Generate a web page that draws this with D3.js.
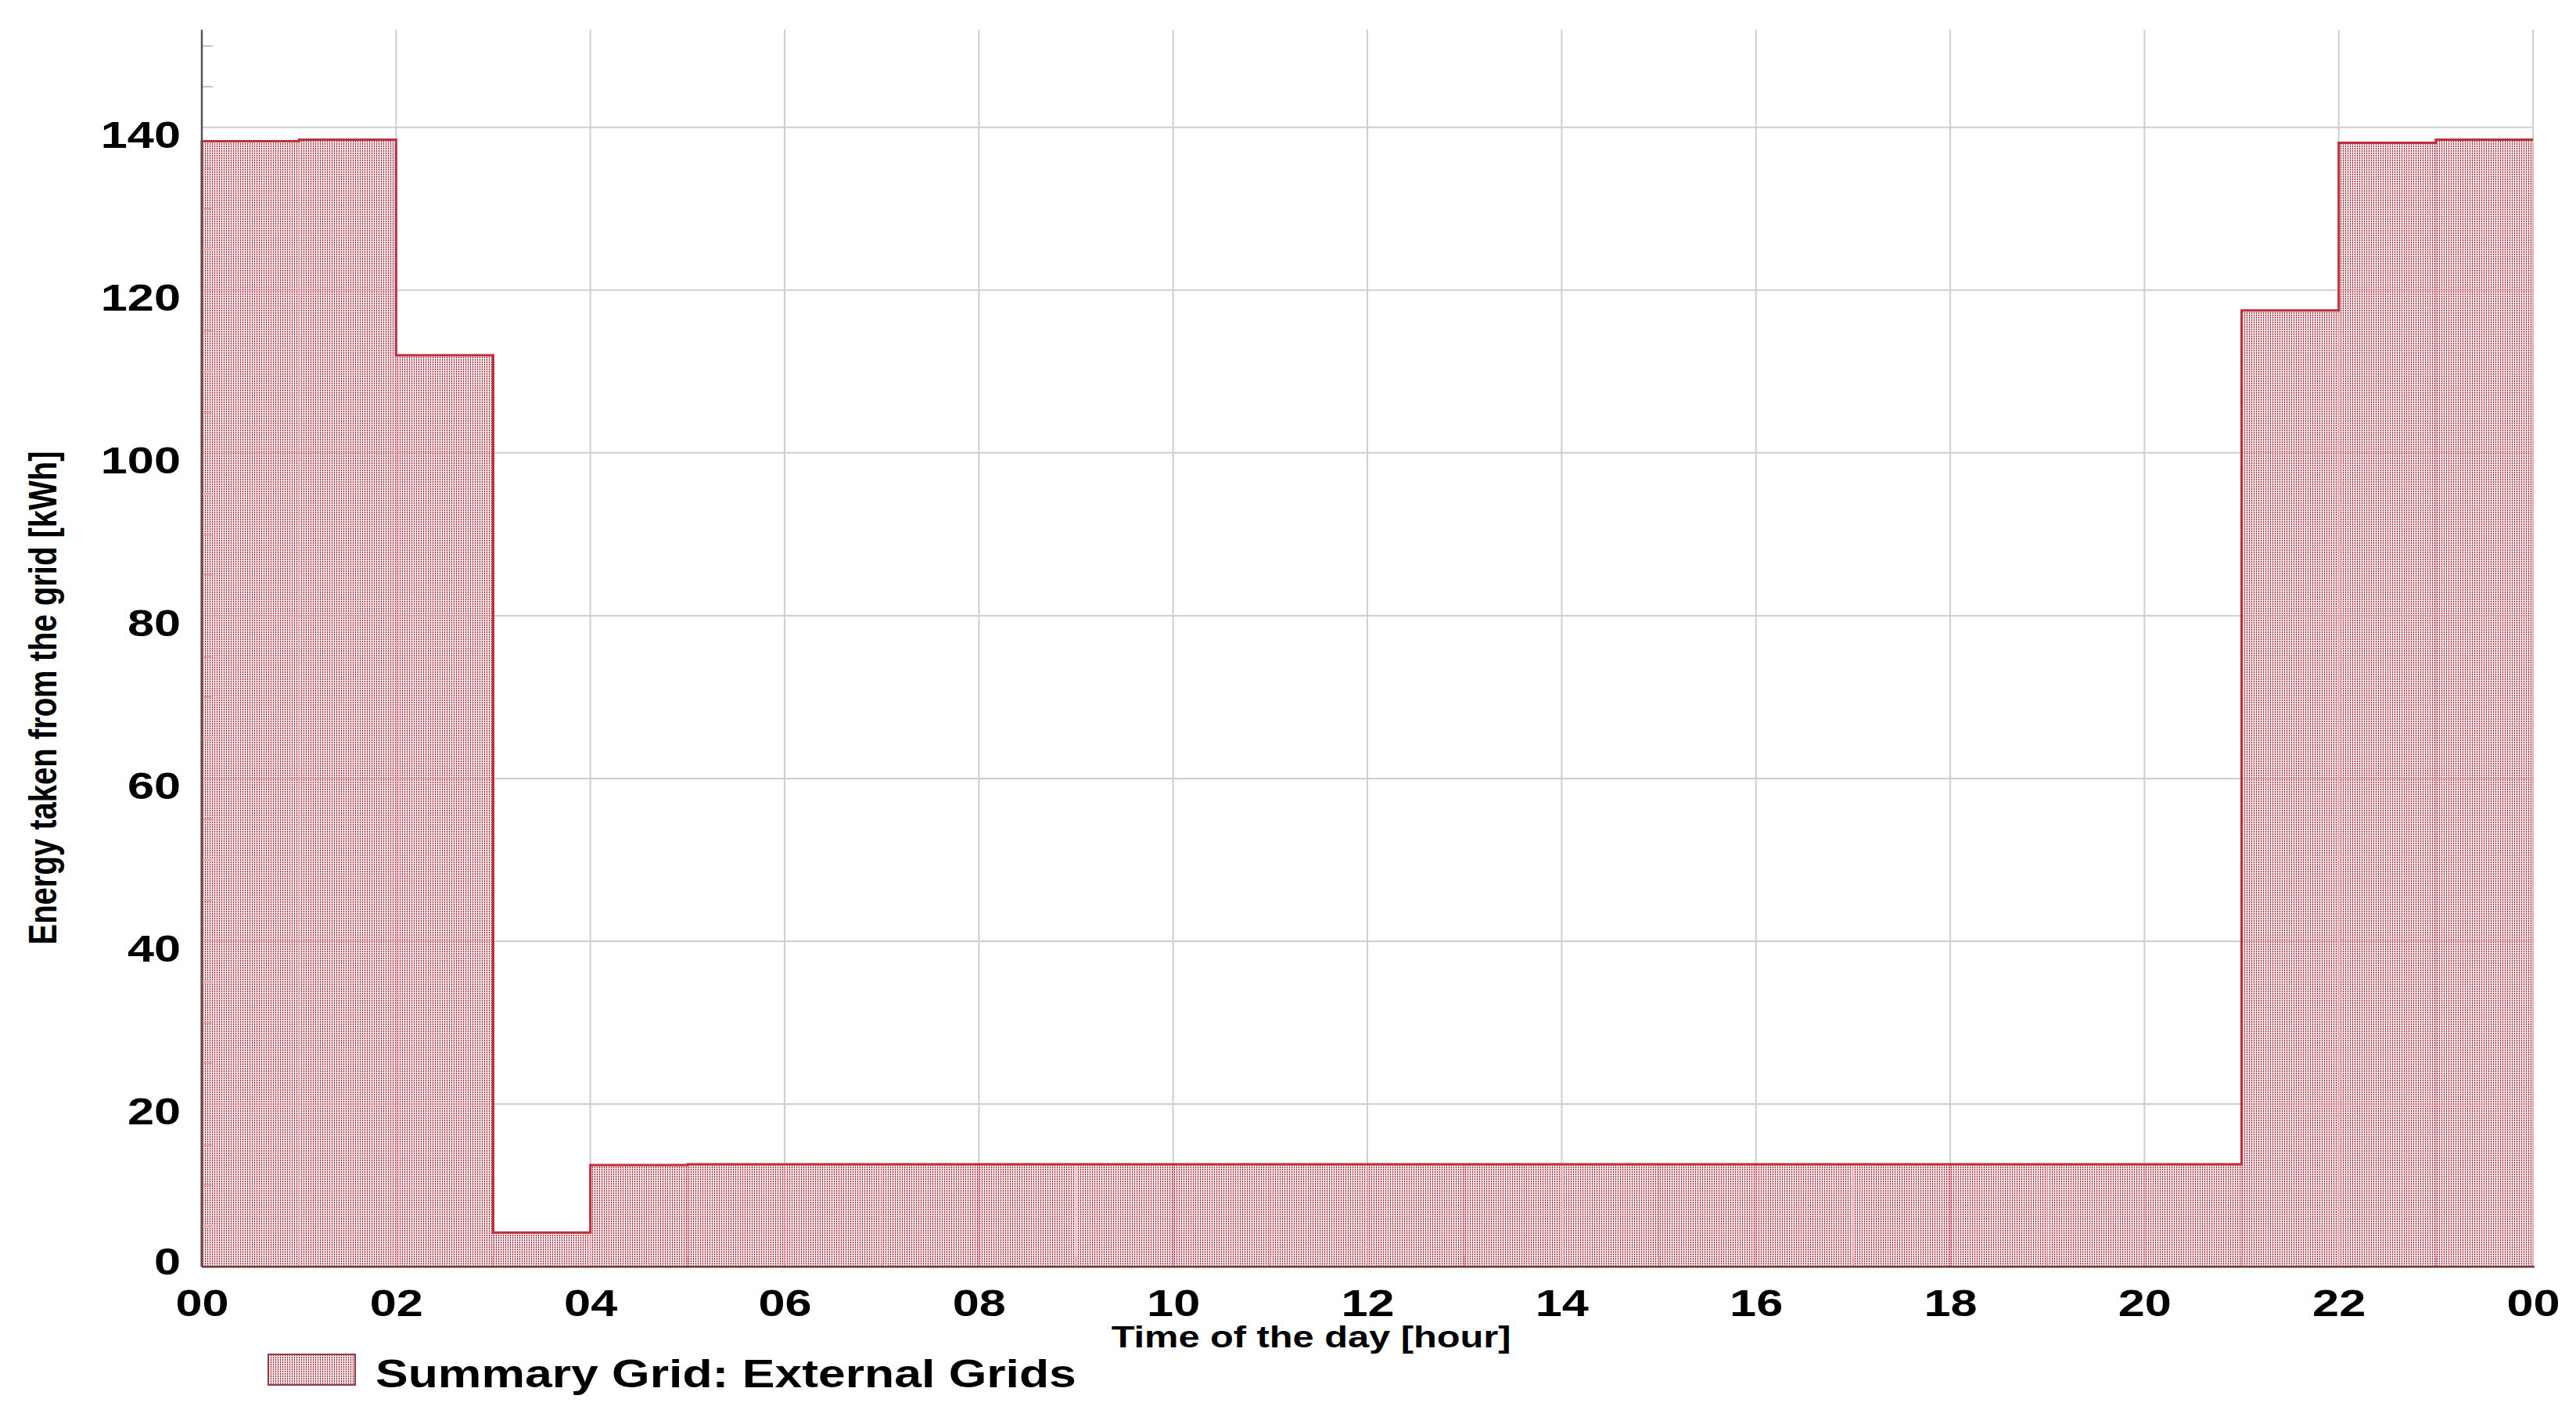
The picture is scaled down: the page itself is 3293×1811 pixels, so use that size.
<!DOCTYPE html>
<html><head><meta charset="utf-8">
<script src="https://cdn.jsdelivr.net/npm/d3@7"></script>
<style>html,body{margin:0;padding:0;background:#fff;} svg{display:block;}</style>
</head><body>
<svg id="chart" width="3293" height="1811"></svg>
<script>
// ---- data ----
const hourStart = [0,1,2,3,4,5,6,7,8,9,10,11,12,13,14,15,16,17,18,19,20,21,22,23];
const energy = [138.3,138.5,112.0,4.2,12.5,12.6,12.6,12.6,12.6,12.6,12.6,12.6,12.6,12.6,12.6,12.6,12.6,12.6,12.6,12.6,12.6,117.5,138.1,138.5];
const xTickHours = [0,2,4,6,8,10,12,14,16,18,20,22,24];
const xTickLabels = ["00","02","04","06","08","10","12","14","16","18","20","22","00"];
const yTickValues = [0,20,40,60,80,100,120,140];
const yMinorTicks = [5,10,15,25,30,35,45,50,55,65,70,75,85,90,95,105,110,115,125,130,135,145,150];
const seriesName = "Summary Grid: External Grids";
const xTitle = "Time of the day [hour]";
const yTitle = "Energy taken from the grid [kWh]";

// ---- layout ----
const plot = {left:258, right:3238, top:38, bottom:1619};
const SX = 1.25; // horizontal stretch of lettering
const FONT = "'Liberation Sans', Arial, sans-serif";
const x = d3.scaleLinear().domain([0,24]).range([plot.left, plot.right]);
const y = d3.scaleLinear().domain([0,152]).range([plot.bottom, plot.top]);

const svg = d3.select("#chart");
const defs = svg.append("defs");
const pat = defs.append("pattern").attr("id","dots").attr("patternUnits","userSpaceOnUse")
  .attr("width",3).attr("height",3);
pat.append("rect").attr("width",3).attr("height",3).attr("fill","#f5dde0");
pat.append("rect").attr("x",1).attr("y",0).attr("width",1).attr("height",2).attr("fill","#8c2a3a");

const bars = hourStart.map((h,i)=>({h, v:energy[i]}));

// clip for grid overlay inside bars
const clip = defs.append("clipPath").attr("id","barclip");
clip.selectAll("rect").data(bars).join("rect")
  .attr("x",d=>x(d.h)).attr("width",d=>x(d.h+1)-x(d.h))
  .attr("y",d=>y(d.v)).attr("height",d=>y(0)-y(d.v));

// ---- grid ----
function drawGrid(g, color, width){
  g.selectAll("line.h").data(yTickValues.filter(v=>v>0)).join("line").attr("class","h")
    .attr("x1",plot.left).attr("x2",plot.right).attr("y1",d=>y(d)).attr("y2",d=>y(d))
    .attr("stroke",color).attr("stroke-width",width);
  g.selectAll("line.v").data(xTickHours.filter(h=>h>0)).join("line").attr("class","v")
    .attr("x1",d=>x(d)).attr("x2",d=>x(d)).attr("y1",plot.top).attr("y2",plot.bottom)
    .attr("stroke",color).attr("stroke-width",width);
}
drawGrid(svg.append("g"), "#cfcfcf", 2);

// ---- bars ----
svg.append("g").selectAll("rect").data(bars).join("rect")
  .attr("x",d=>x(d.h)).attr("width",d=>x(d.h+1)-x(d.h))
  .attr("y",d=>y(d.v)).attr("height",d=>y(0)-y(d.v))
  .attr("fill","url(#dots)").attr("stroke","#eba3a9").attr("stroke-width",1);

// grid showing through fill
drawGrid(svg.append("g").attr("clip-path","url(#barclip)").attr("opacity",0.5), "#ec8a93", 2);

// outline
const outlinePts = [[0,0]].concat(bars.map(d=>[d.h,d.v])).concat([[24, energy[energy.length-1]]]);
svg.append("path").datum(outlinePts)
  .attr("d", d3.line().x(d=>x(d[0])).y(d=>y(d[1])).curve(d3.curveStepAfter))
  .attr("fill","none").attr("stroke","#bd2f3b").attr("stroke-width",3);

// minor ticks
svg.append("g").selectAll("line").data(yMinorTicks).join("line")
  .attr("x1",plot.left).attr("x2",plot.left+14).attr("y1",d=>y(d)).attr("y2",d=>y(d))
  .attr("stroke",d=>d<=138?"#e59aa1":"#c4c4c4").attr("stroke-width",2);
svg.append("g").selectAll("line").data(hourStart.filter(h=>h%2===1)).join("line")
  .attr("x1",d=>x(d)).attr("x2",d=>x(d)).attr("y1",plot.bottom).attr("y2",plot.bottom-13)
  .attr("stroke","#e59aa1").attr("stroke-width",2);

// axis lines
svg.append("line").attr("x1",plot.left).attr("x2",plot.left).attr("y1",plot.top).attr("y2",plot.bottom)
  .attr("stroke","#555").attr("stroke-width",2.5);
svg.append("line").attr("x1",plot.left).attr("x2",plot.right+2).attr("y1",plot.bottom).attr("y2",plot.bottom)
  .attr("stroke","#6b3a3f").attr("stroke-width",2.5);

// ---- axes (labels) ----
const gY = svg.append("g").attr("transform",`translate(${plot.left},0)`)
  .call(d3.axisLeft(y).tickValues(yTickValues).tickSize(0).tickFormat(d3.format("d")));
gY.attr("font-family",FONT).attr("font-size",49);
gY.select(".domain").remove();
gY.selectAll(".tick text").attr("x",0).attr("dy",null)
  .attr("transform",d=>`translate(-27,${d===0?9:25.5}) scale(${SX},1)`)
  .attr("font-weight","bold").attr("fill","#000").attr("text-anchor","end");

const gX = svg.append("g").attr("transform",`translate(0,${plot.bottom})`)
  .call(d3.axisBottom(x).tickValues(xTickHours).tickSize(0).tickFormat((d,i)=>xTickLabels[i]));
gX.attr("font-family",FONT).attr("font-size",49);
gX.select(".domain").remove();
gX.selectAll(".tick text").attr("y",0).attr("dy",null)
  .attr("transform",`translate(0,63) scale(${SX},1)`)
  .attr("font-weight","bold").attr("fill","#000").attr("text-anchor","middle");

// titles
svg.append("text").attr("transform",`translate(1676,1722) scale(${SX},1)`)
  .attr("text-anchor","middle").attr("font-family",FONT).attr("font-size",39).attr("font-weight","bold")
  .attr("fill","#000").text(xTitle);
svg.append("text").attr("transform",`translate(72,892) rotate(-90) scale(1,${SX})`)
  .attr("text-anchor","middle").attr("font-family",FONT).attr("font-size",40).attr("font-weight","bold")
  .attr("fill","#000").text(yTitle);

// legend
const lg = svg.append("g");
lg.append("rect").attr("x",343).attr("y",1731).attr("width",111).attr("height",39)
  .attr("fill","url(#dots)").attr("stroke","#8e3b44").attr("stroke-width",2);
lg.append("text").attr("transform",`translate(480,1773) scale(${SX},1)`)
  .attr("font-family",FONT).attr("font-size",50).attr("font-weight","bold").attr("fill","#000")
  .text(seriesName);
</script>
</body></html>
